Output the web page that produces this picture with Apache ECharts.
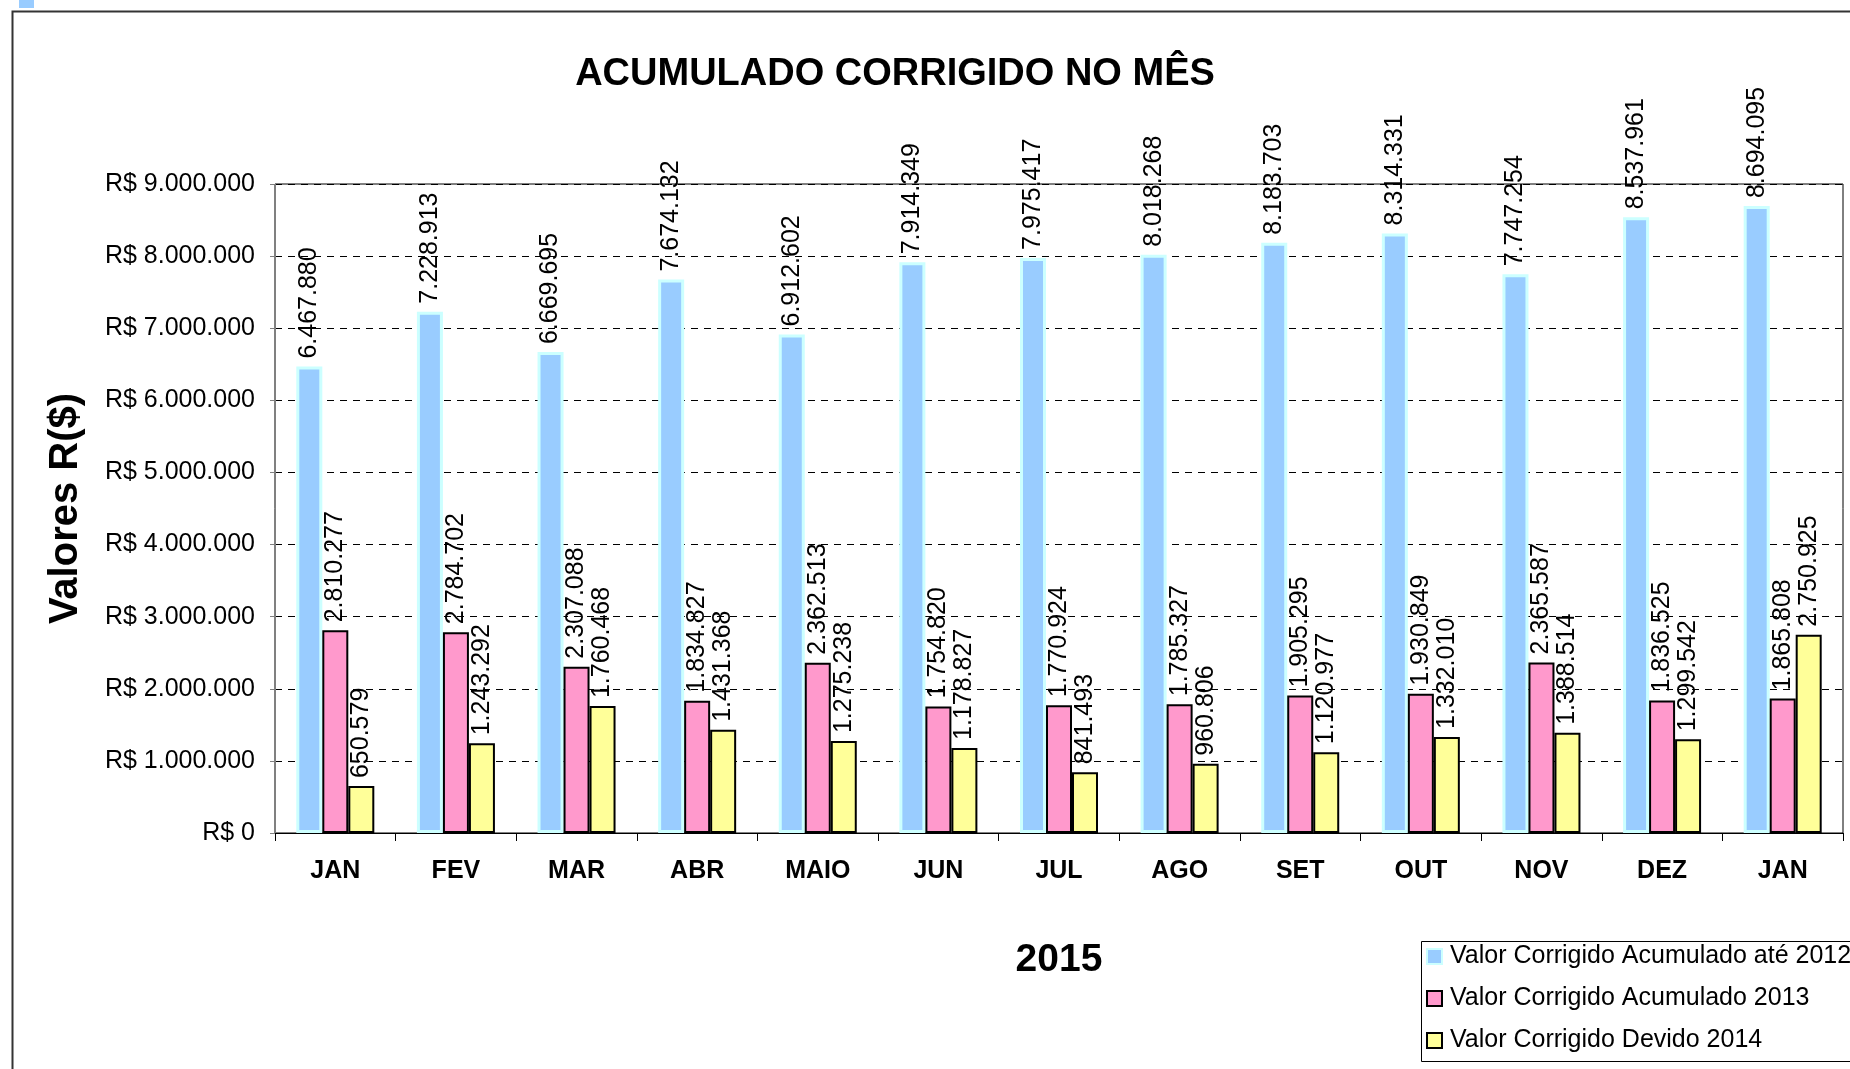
<!DOCTYPE html>
<html>
<head>
<meta charset="utf-8">
<script src="https://cdn.jsdelivr.net/npm/echarts@6/dist/echarts.min.js"></script>
<style>
html,body{margin:0;padding:0;background:#fff;}
#chart{width:1850px;height:1069px;}
</style>
</head>
<body>
<div id="chart"></div>
<script>
var categories = ['JAN','FEV','MAR','ABR','MAIO','JUN','JUL','AGO','SET','OUT','NOV','DEZ','JAN'];
var seriesNames = ['Valor Corrigido Acumulado até 2012','Valor Corrigido Acumulado 2013','Valor Corrigido Devido 2014'];
var ate2012 = [6467880,7228913,6669695,7674132,6912602,7914349,7975417,8018268,8183703,8314331,7747254,8537961,8694095];
var acum2013 = [2810277,2784702,2307088,1834827,2362513,1754820,1770924,1785327,1905295,1930849,2365587,1836525,1865808];
var devido2014 = [650579,1243292,1760468,1431368,1275238,1178827,841493,960806,1120977,1332010,1388514,1299542,2750925];
var yTicks = {min:0, max:9000000, interval:1000000};

var FONT = 'Liberation Sans, Arial, sans-serif';
function fmt(v){ return String(v).replace(/\B(?=(\d{3})+(?!\d))/g,'.'); }

var chart = echarts.init(document.getElementById('chart'));
var labelCfg = {
  show:true, position:'top', distance:8, rotate:90, align:'left', verticalAlign:'middle',
  fontFamily:FONT, fontSize:25, color:'#000',
  formatter:function(p){return fmt(p.value);}
};
function bar(name, data, color, border, bw){
  return {
    name:name, type:'bar', data:data, barWidth:26, barGap:'0%',
    itemStyle:{color:color, borderColor:border, borderWidth:bw},
    label:labelCfg
  };
}
chart.setOption({
  animation:false,
  backgroundColor:'#fff',
  title:{
    text:'ACUMULADO CORRIGIDO NO MÊS', left:890, textAlign:'center', top:51,
    textStyle:{fontFamily:FONT, fontSize:38, fontWeight:'bold', color:'#000'}
  },
  grid:{left:275, right:7, top:184, bottom:236, show:true, borderColor:'#000', borderWidth:1, backgroundColor:'transparent'},
  legend:{
    orient:'vertical', left:1426, top:944, itemGap:17, itemWidth:15, itemHeight:15, padding:0,
    icon:'rect',
    textStyle:{fontFamily:FONT, fontSize:25, color:'#000', padding:[0,0,0,3]},
    data:seriesNames
  },
  xAxis:{
    type:'category', data:categories,
    name:'2015', nameLocation:'middle', nameGap:108,
    nameTextStyle:{fontFamily:FONT, fontSize:39, fontWeight:'bold', color:'#000'},
    axisLine:{lineStyle:{color:'#000', width:1}},
    axisTick:{show:true, length:8, interval:0, lineStyle:{color:'#000'}},
    axisLabel:{interval:0, margin:26, fontFamily:FONT, fontSize:25, fontWeight:'bold', color:'#000'}
  },
  yAxis:{
    type:'value', min:yTicks.min, max:yTicks.max, interval:yTicks.interval,
    name:'Valores R($)', nameLocation:'middle', nameRotate:90, nameGap:189,
    nameTextStyle:{fontFamily:FONT, fontSize:40, fontWeight:'bold', color:'#000'},
    axisLine:{show:true, lineStyle:{color:'#808080', width:1}},
    axisTick:{show:true, length:5, lineStyle:{color:'#808080'}},
    axisLabel:{margin:20, fontFamily:FONT, fontSize:25, color:'#000', formatter:function(v){return 'R$ '+fmt(v);}},
    splitLine:{show:true, lineStyle:{color:'#000', type:[7,6], width:1}}
  },
  graphic:[
    {type:'rect', left:10, top:9, shape:{width:1900, height:1100}, style:{fill:'none', stroke:'#333', lineWidth:2}, silent:true},
    {type:'rect', left:19, top:0, shape:{width:15, height:8}, style:{fill:'#99CCFF'}, silent:true},
    {type:'rect', left:1419, top:939, shape:{width:500, height:120}, style:{fill:'none', stroke:'#000', lineWidth:1}, silent:true}
  ],
  series:[
    bar(seriesNames[0], ate2012, '#99CCFF', '#CCFFFF', 3),
    bar(seriesNames[1], acum2013, '#FF99CC', '#000', 2),
    bar(seriesNames[2], devido2014, '#FFFF99', '#000', 2)
  ]
});
</script>
</body>
</html>
